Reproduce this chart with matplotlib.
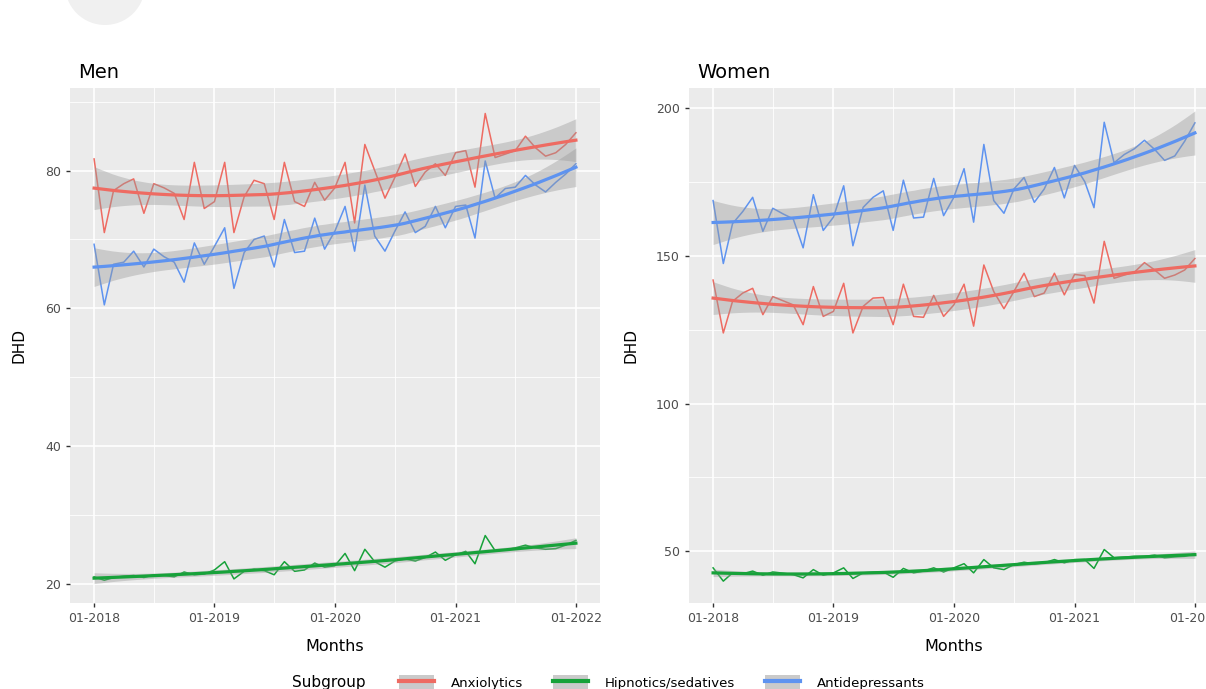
import numpy as np
import pandas as pd
import matplotlib
matplotlib.use("Agg")
import matplotlib.pyplot as plt
import matplotlib.dates as mdates
from matplotlib.patches import Patch, Ellipse
from matplotlib.lines import Line2D

# monthly DHD, 01-2018 .. 01-2022
months = pd.date_range("2018-01-01", periods=49, freq="MS")
subgroups = ["Anxiolytics", "Hipnotics/sedatives", "Antidepressants"]

men_anx = [81.7, 71.0, 77.1, 78.1, 78.8, 73.8, 78.1, 77.5, 76.7, 72.9,
           81.2, 74.5, 75.5, 81.2, 71.0, 76.2, 78.6, 78.1, 72.9, 81.2,
           75.5, 74.8, 78.3, 75.7, 77.5, 81.2, 72.4, 83.8, 80.0, 76.0,
           79.0, 82.4, 77.7, 79.8, 81.0, 79.3, 82.6, 82.9, 77.6, 88.3,
           81.9, 82.4, 82.9, 85.0, 83.3, 82.1, 82.6, 83.8, 85.5]
men_hyp = [21.0, 20.5, 20.9, 21.1, 21.2, 20.9, 21.3, 21.2, 21.0, 21.7,
           21.3, 21.4, 22.0, 23.2, 20.7, 21.8, 22.1, 21.9, 21.3, 23.2,
           21.8, 22.0, 23.0, 22.4, 22.6, 24.4, 21.9, 25.0, 23.2, 22.4,
           23.3, 23.6, 23.3, 23.8, 24.6, 23.4, 24.2, 24.7, 22.9, 27.0,
           24.8, 24.9, 25.2, 25.6, 25.2, 25.0, 25.1, 25.6, 26.3]
men_dep = [69.3, 60.5, 66.4, 66.7, 68.3, 66.0, 68.6, 67.5, 66.7, 63.8,
           69.5, 66.4, 69.0, 71.7, 62.9, 68.1, 70.0, 70.5, 66.0, 72.9,
           68.1, 68.3, 73.1, 68.6, 71.2, 74.8, 68.3, 77.9, 70.5, 68.3,
           71.2, 74.0, 71.0, 71.9, 74.8, 71.7, 74.8, 75.0, 70.2, 81.4,
           76.0, 77.4, 77.6, 79.3, 77.9, 76.9, 78.3, 79.5, 81.0]

women_anx = [141.8, 123.9, 134.6, 137.4, 139.0, 130.1, 136.2, 134.8, 133.4, 126.7,
             139.6, 129.5, 131.2, 140.7, 123.9, 132.9, 135.7, 135.9, 126.7, 140.4,
             129.5, 129.2, 136.6, 129.5, 133.4, 140.4, 126.2, 146.9, 137.9, 132.1,
             137.9, 144.1, 136.2, 137.4, 144.1, 136.8, 143.7, 143.3, 134.0, 154.9,
             142.4, 143.5, 144.4, 147.7, 145.2, 142.4, 143.5, 145.2, 149.1]
women_hyp = [44.4, 39.9, 42.7, 42.4, 43.3, 41.9, 43.0, 42.6, 42.1, 41.0,
             43.8, 41.9, 42.7, 44.4, 40.8, 42.7, 42.9, 43.0, 41.2, 44.2,
             42.7, 43.3, 44.4, 43.0, 44.4, 45.8, 42.7, 47.2, 44.4, 43.8,
             45.5, 46.3, 45.7, 46.1, 47.2, 46.1, 47.2, 47.2, 44.2, 50.6,
             47.8, 48.0, 48.3, 48.3, 48.7, 47.8, 48.1, 48.3, 49.2]
women_dep = [168.7, 147.4, 160.9, 165.0, 169.8, 158.3, 166.1, 164.2, 162.5, 152.7,
             170.7, 158.6, 163.1, 173.7, 153.4, 166.4, 169.8, 172.0, 158.6, 175.6,
             162.8, 163.1, 176.2, 163.6, 169.8, 179.5, 161.4, 187.7, 168.7, 164.4,
             172.6, 176.5, 168.1, 172.6, 179.9, 169.6, 180.6, 175.1, 166.3, 195.2,
             181.5, 184.3, 186.2, 189.1, 186.0, 182.3, 183.8, 188.8, 195.0]

colors = ["#EE6B62", "#17A23A", "#5E93F0"]


def loess(x, y, xs, span=0.75):
    """local quadratic fit with tricube weights (like R's loess), plus SE"""
    n = len(x)
    q = int(np.floor(n * span))

    def row(x0):
        d = np.abs(x - x0)
        h = np.sort(d)[q - 1]
        w = np.clip(1 - (d / h) ** 3, 0, None) ** 3
        X = np.vstack([np.ones(n), x - x0, (x - x0) ** 2]).T
        A = X.T * w
        return np.linalg.solve(A @ X, A)[0]

    L = np.array([row(x0) for x0 in x])
    Lg = np.array([row(x0) for x0 in xs])
    res = y - L @ y
    M = np.eye(n) - L
    d1 = np.trace(M.T @ M)
    s = np.sqrt(np.sum(res ** 2) / d1)
    se = s * np.sqrt(np.sum(Lg ** 2, axis=1))
    return Lg @ y, se


def panel(ax, title, series, ylim, yticks, yminor):
    ax.set_facecolor("#EBEBEB")
    xnum = mdates.date2num(months)
    t = np.arange(len(months), dtype=float)
    tg = np.linspace(0, t[-1], 80)
    xg = np.interp(tg, t, xnum)
    for vals, c in zip(series, colors):
        ax.plot(xnum, vals, color=c, lw=1.1, zorder=2)
    for vals, c in zip(series, colors):
        fit, se = loess(t, np.array(vals), tg)
        ax.fill_between(xg, fit - 2.01 * se, fit + 2.01 * se, color="#999999",
                        alpha=0.4, lw=0, zorder=3)
        ax.plot(xg, fit, color=c, lw=2.3, zorder=4)

    pad = (xnum[-1] - xnum[0]) * 0.05
    ax.set_xlim(xnum[0] - pad, xnum[-1] + pad)
    ax.set_ylim(*ylim)
    ax.xaxis.set_major_locator(mdates.YearLocator())
    ax.xaxis.set_minor_locator(mdates.MonthLocator(bymonth=7))
    ax.xaxis.set_major_formatter(mdates.DateFormatter("%m-%Y"))
    ax.set_yticks(yticks)
    ax.set_yticks(yminor, minor=True)
    ax.grid(which="major", color="white", lw=1.2)
    ax.grid(which="minor", color="white", lw=0.6)
    ax.set_axisbelow(True)
    for sp in ax.spines.values():
        sp.set_visible(False)
    ax.tick_params(which="major", length=3, width=1, color="#333333",
                   labelcolor="#4D4D4D", labelsize=9)
    ax.tick_params(which="minor", length=0)
    ax.set_title(title, loc="left", fontsize=14, pad=7, x=0.015)
    ax.set_xlabel("Months", fontsize=11.5, labelpad=10)
    ax.set_ylabel("DHD", fontsize=11, labelpad=13)


fig = plt.figure(figsize=(12.06, 6.89), dpi=100)
ax1 = fig.add_axes([70 / 1206, 1 - 603 / 689, 530 / 1206, 515 / 689])
ax2 = fig.add_axes([689 / 1206, 1 - 603 / 689, 530 / 1206, 515 / 689])

panel(ax1, "Men", [men_anx, men_hyp, men_dep], (17.2, 92.0),
      [20, 40, 60, 80], [30, 50, 70, 90])
panel(ax2, "Women", [women_anx, women_hyp, women_dep], (32.5, 206.8),
      [50, 100, 150, 200], [75, 125, 175])

# the faint round shape at top-left of the screenshot
fig.add_artist(Ellipse((105 / 1206, 1 + 15 / 689), 80 / 1206, 80 / 689,
                       transform=fig.transFigure, color="#F0F0F0", lw=0))

handles = [(Patch(facecolor="#CACACA", edgecolor="none"),
            Line2D([], [], color=c, lw=3)) for c in colors]
fig.text(292 / 1206, 1 - 683 / 689, "Subgroup", fontsize=11, va="center")
fig.legend(handles, subgroups, loc="center", ncol=3, frameon=False,
           bbox_to_anchor=(662 / 1206, 1 - 683 / 689), fontsize=9.5,
           handlelength=2.6, handleheight=1.6, handletextpad=1.3,
           columnspacing=2.3)

fig.savefig("out.png", dpi=100)
